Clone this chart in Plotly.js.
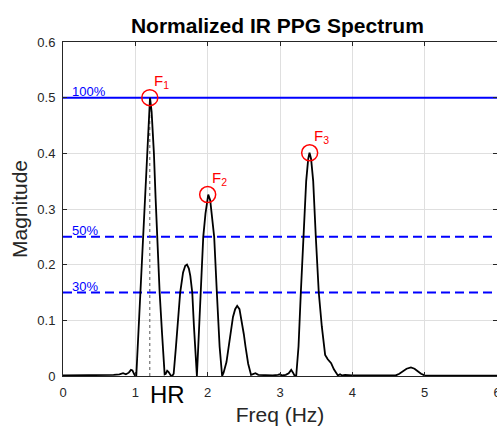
<!DOCTYPE html>
<html>
<head>
<meta charset="utf-8">
<script src="https://cdn.plot.ly/plotly-3.0.1.min.js"></script>
<style>html,body{margin:0;padding:0;background:#fff;}#chart{width:497px;height:426px;}</style>
</head>
<body>
<div id="chart"></div>
<script>
// Spectrum samples (Hz, normalized magnitude)
const freq = [0.00,0.10,0.20,0.30,0.40,0.50,0.60,0.70,0.78,0.83,0.87,0.91,0.94,0.96,0.985,1.00,1.013,
  1.04,1.07,1.115,1.14,1.165,1.19,1.203,1.225,1.257,1.28,1.30,1.336,1.37,1.405,1.42,1.44,1.46,1.49,1.51,
  1.53,1.56,1.59,1.62,1.66,1.69,1.714,1.74,1.76,1.787,1.81,1.83,1.851,
  1.87,1.902,1.939,1.97,1.995,2.008,2.035,2.06,2.09,2.127,2.165,2.20,
  2.22,2.26,2.293,2.32,2.35,2.38,2.408,2.44,2.47,2.50,2.523,2.56,2.60,2.63,2.66,2.70,2.80,2.90,2.97,3.00,
  3.03,3.08,3.12,3.155,3.18,3.20,3.224,3.256,3.288,3.326,3.362,3.39,3.408,3.43,3.459,3.495,3.536,3.578,
  3.605,3.624,3.66,3.707,3.745,3.776,3.80,3.83,3.86,3.90,4.00,4.20,4.40,4.60,4.65,4.70,4.75,4.81,4.86,
  4.90,4.95,5.00,5.50,6.00];
const magnitude = [0.001,0.001,0.001,0.001,0.001,0.001,0.0015,0.002,0.003,0.005,0.003,0.006,0.011,0.010,0.003,0.0,0.0,
  0.07,0.15,0.255,0.32,0.395,0.465,0.5,0.475,0.40,0.32,0.25,0.15,0.075,0.003,0.004,0.0095,0.007,0.001,0.0,
  0.004,0.05,0.10,0.15,0.186,0.198,0.2,0.193,0.18,0.15,0.09,0.05,0.0,
  0.053,0.15,0.25,0.292,0.318,0.326,0.316,0.29,0.25,0.15,0.053,0.0,
  0.006,0.025,0.053,0.08,0.106,0.12,0.126,0.12,0.10,0.075,0.053,0.022,0.002,0.004,0.005,0.002,0.001,0.001,0.002,0.003,
  0.001,0.002,0.005,0.011,0.006,0.001,0.0,0.053,0.15,0.25,0.35,0.39,0.401,0.39,0.35,0.25,0.15,0.089,
  0.053,0.038,0.03,0.023,0.012,0.005,0.001,0.003,0.001,0.002,0.001,0.001,0.001,0.001,0.004,0.009,0.013,0.0155,0.013,
  0.009,0.004,0.001,0.0005,0.0005];

// Detected peaks
const peakFreq = [1.2, 2.0, 3.41];
const peakMag = [0.5, 0.326, 0.401];
const peakLabels = ['F<sub>1</sub>', 'F<sub>2</sub>', 'F<sub>3</sub>'];
const hrFreq = 1.2;

// Threshold levels
const thresholdLevels = [0.5, 0.25, 0.15];
const thresholdLabels = ['100%', '50%', '30%'];
const thresholdDash = ['solid', '9px,5px', '9px,5px'];

// Axes
const xRange = [0, 6];
const yRange = [0, 0.6];

const FONT = 'Liberation Sans, Arial, Helvetica, sans-serif';
const AX = '#262626';

const traces = [];
thresholdLevels.forEach((lv, i) => {
  traces.push({x: xRange, y: [lv, lv], mode: 'lines', hoverinfo: 'skip',
    line: {color: '#0000ff', width: 2, dash: thresholdDash[i]}});
});
traces.push({x: [hrFreq, hrFreq], y: [0, peakMag[0]], mode: 'lines',
  line: {color: '#555555', width: 1, dash: 'dot'}});
traces.push({x: freq, y: magnitude, mode: 'lines', line: {color: '#000000', width: 1.8}});
traces.push({x: peakFreq, y: peakMag, mode: 'markers',
  marker: {symbol: 'circle-open', size: 16, color: '#ff0000', line: {width: 1.5}}});

const annotations = [];
thresholdLevels.forEach((lv, i) => {
  annotations.push({x: 0.1, y: lv, xref: 'x', yref: 'y', text: thresholdLabels[i], showarrow: false,
    xanchor: 'left', yanchor: 'bottom', yshift: -3, font: {family: FONT, size: 13, color: '#0000ff'}});
});
peakFreq.forEach((f, i) => {
  annotations.push({x: f, y: peakMag[i], xref: 'x', yref: 'y', text: peakLabels[i], showarrow: false,
    xanchor: 'left', yanchor: 'bottom', xshift: 2, yshift: 5, font: {family: FONT, size: 15, color: '#ff0000'}});
});
annotations.push({x: hrFreq, y: 0, xref: 'x', yref: 'paper', text: 'HR', showarrow: false,
  xanchor: 'left', yanchor: 'top', xshift: -2, yshift: -3, font: {family: FONT, size: 24, color: '#000000'}});

const layout = {
  width: 497, height: 426,
  margin: {l: 63, r: 0, t: 42, b: 50},
  paper_bgcolor: '#ffffff', plot_bgcolor: '#ffffff',
  showlegend: false,
  font: {family: FONT, color: AX},
  title: {text: '<b>Normalized IR PPG Spectrum</b>', font: {family: FONT, size: 21, color: '#000000'},
    x: 0.494, xref: 'paper', xanchor: 'center', y: 0.94, yref: 'container', yanchor: 'middle'},
  xaxis: {range: xRange, dtick: 1, tick0: 0, ticks: 'inside', ticklen: 4, tickcolor: AX,
    showline: true, linecolor: AX, linewidth: 1, mirror: 'ticks', showgrid: true, gridcolor: '#dfdfdf',
    zeroline: false, tickfont: {family: FONT, size: 13, color: AX}, ticklabelstandoff: 4,
    ticklabeloverflow: 'allow',
    title: {text: 'Freq (Hz)', font: {family: FONT, size: 21, color: AX}, standoff: 8}},
  yaxis: {range: yRange, dtick: 0.1, tick0: 0, ticks: 'inside', ticklen: 4, tickcolor: AX,
    showline: true, linecolor: AX, linewidth: 1, mirror: 'ticks', showgrid: true, gridcolor: '#dfdfdf',
    zeroline: false, tickfont: {family: FONT, size: 13, color: AX}, ticklabelstandoff: 4,
    title: {text: 'Magnitude', font: {family: FONT, size: 21, color: AX}, standoff: 3}},
  annotations: annotations
};

Plotly.newPlot('chart', traces, layout, {displayModeBar: false, staticPlot: true});
</script>
</body>
</html>
